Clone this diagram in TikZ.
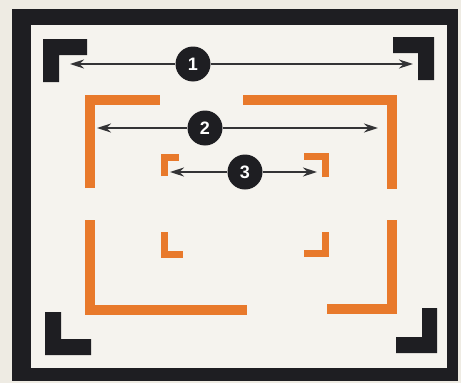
\documentclass[tikz,border=0pt]{standalone}
\usepackage{fontspec}
\setsansfont{Liberation Sans}
\usetikzlibrary{arrows.meta}
\definecolor{outerbg}{HTML}{EEEBE3}
\definecolor{pagebg}{HTML}{F5F3EE}
\definecolor{framek}{HTML}{1E1E22}
\definecolor{orng}{HTML}{E8792B}
\definecolor{arrk}{HTML}{333335}
\tikzset{
  bigbr/.style={orng, line width=9.5pt, line cap=butt, line join=miter},
  smallbr/.style={orng, line width=7pt, line cap=butt, line join=miter},
  numdot/.style={circle, fill=framek, minimum size=35pt, inner sep=0pt,
     text=white, font=\sffamily\bfseries\fontsize{18}{18}\selectfont},
  dimarrow/.style={arrk, line width=1.8pt, -{Stealth[length=14pt,width=9pt]}}
}
\begin{document}
\begin{tikzpicture}[x=1pt,y=-1pt]
\useasboundingbox (0,0) rectangle (461,383);
\fill[outerbg] (0,0) rectangle (461,383);
% frame
\fill[framek] (12,9) rectangle (458,381);
\fill[pagebg] (31,25) rectangle (447,368);
% black corners
\fill[framek] (43,39) -- (87,39) -- (87,55) -- (59,55) -- (59,82) -- (43,82) -- cycle;
\fill[framek] (434,37) -- (393,37) -- (393,53) -- (418,53) -- (418,80) -- (434,80) -- cycle;
\fill[framek] (45,355) -- (91,355) -- (91,339) -- (61,339) -- (61,312) -- (45,312) -- cycle;
\fill[framek] (437,353) -- (396,353) -- (396,337) -- (422,337) -- (422,308) -- (437,308) -- cycle;
% big orange brackets
\draw[bigbr] (90,188) -- (90,100) -- (160,100);
\draw[bigbr] (243,100) -- (392,100) -- (392,189);
\draw[bigbr] (90,220) -- (90,310) -- (247,310);
\draw[bigbr] (327,309) -- (392,309) -- (392,220);
% small orange brackets
\draw[smallbr] (164.5,176) -- (164.5,157.5) -- (179,157.5);
\draw[smallbr] (304,156.5) -- (325.5,156.5) -- (325.5,177);
\draw[smallbr] (164.5,232) -- (164.5,254.5) -- (183,254.5);
\draw[smallbr] (304,253.5) -- (325.5,253.5) -- (325.5,232);
% numbered markers
\node[numdot] (c1) at (193,64) {1};
\node[numdot] (c2) at (205,128) {2};
\node[numdot] (c3) at (245,172) {3};
\coordinate (l1) at (70,64);
\coordinate (r1) at (413,64);
\coordinate (l2) at (97,128);
\coordinate (r2) at (378,128);
\coordinate (l3) at (170,172);
\coordinate (r3) at (317,172);
\draw[dimarrow] (c1) -- (l1);
\draw[dimarrow] (c1) -- (r1);
\draw[dimarrow] (c2) -- (l2);
\draw[dimarrow] (c2) -- (r2);
\draw[dimarrow] (c3) -- (l3);
\draw[dimarrow] (c3) -- (r3);
\end{tikzpicture}
\end{document}
